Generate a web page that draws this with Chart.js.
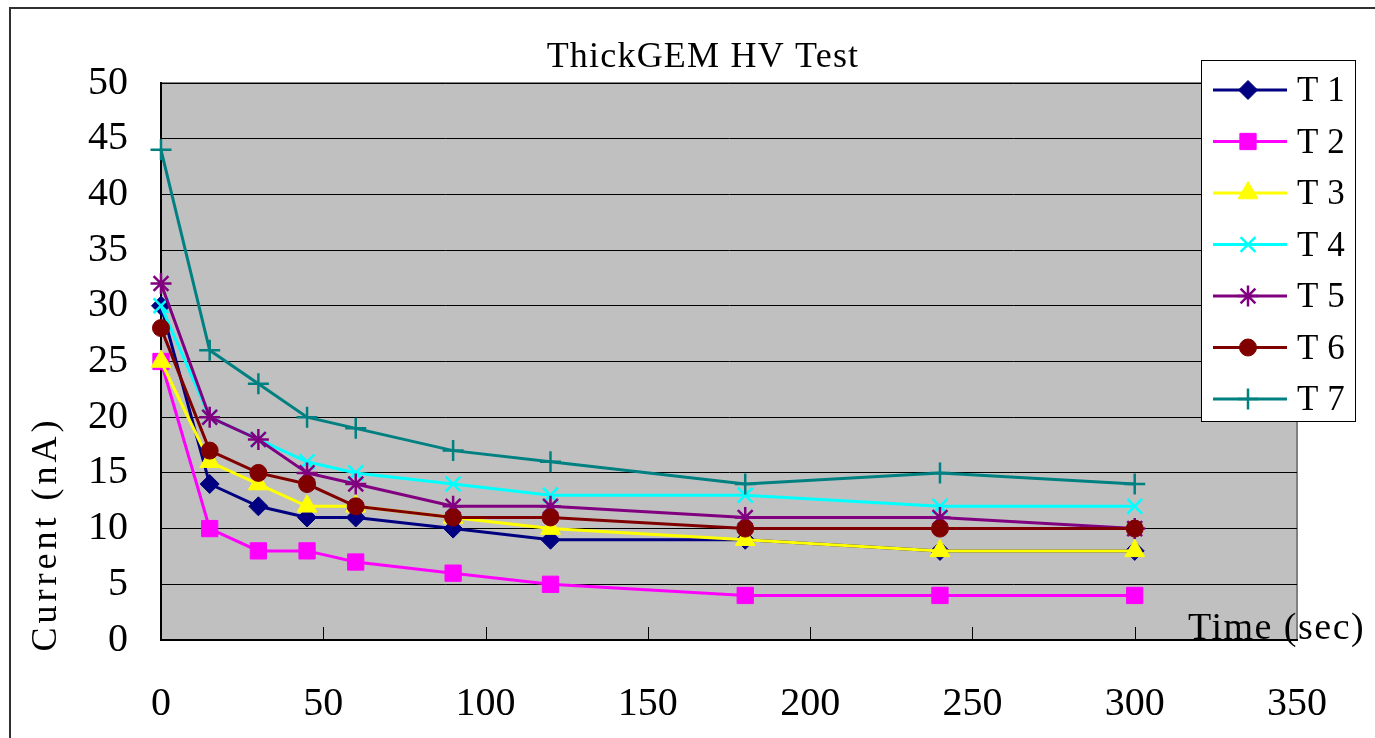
<!DOCTYPE html>
<html>
<head>
<meta charset="utf-8">
<title>ThickGEM HV Test</title>
<script src="https://cdn.jsdelivr.net/npm/chart.js@4.4.1/dist/chart.umd.min.js"></script>
<style>
  html, body { margin: 0; padding: 0; background: #ffffff; }
  #wrap { width: 1375px; height: 738px; position: relative; }
</style>
</head>
<body>
<div id="wrap"><canvas id="c" width="1375" height="738"></canvas></div>
<script>
// Elapsed time after HV switch-on (sec)
const times = [0, 15, 30, 45, 60, 90, 120, 180, 240, 300];

// Leakage current per foil (nA)
const t1 = [30, 14, 12, 11, 11, 10, 9, 9, 8, 8];
const t2 = [25, 10, 8, 8, 7, 6, 5, 4, 4, 4];
const t3 = [25, 16, 14, 12, 12, 11, 10, 9, 8, 8];
const t4 = [30, 20, 18, 16, 15, 14, 13, 13, 12, 12];
const t5 = [32, 20, 18, 15, 14, 12, 12, 11, 11, 10];
const t6 = [28, 17, 15, 14, 12, 11, 11, 10, 10, 10];
const t7 = [44, 26, 23, 20, 19, 17, 16, 14, 15, 14];

const seriesNames = ['T 1', 'T 2', 'T 3', 'T 4', 'T 5', 'T 6', 'T 7'];
const seriesValues = [t1, t2, t3, t4, t5, t6, t7];

const yTicks = [0, 5, 10, 15, 20, 25, 30, 35, 40, 45, 50];
const xTicks = [0, 50, 100, 150, 200, 250, 300, 350];

const titleText = 'ThickGEM HV Test';
const yTitle = 'Current (nA)';
const xTitle = 'Time (sec)';

const FONT = "'Liberation Serif', 'DejaVu Serif', serif";

const styles = [
  { color: '#000080', pointStyle: 'rectRot', radius: 9.5 },
  { color: '#FF00FF', pointStyle: 'rect', radius: 11.5 },
  { color: '#FFFF00', pointStyle: 'triangle', radius: 11.5 },
  { color: '#00FFFF', pointStyle: 'crossRot', radius: 10.5 },
  { color: '#800080', pointStyle: 'star', radius: 10.5 },
  { color: '#800000', pointStyle: 'circle', radius: 8.5 },
  { color: '#008080', pointStyle: 'cross', radius: 10.5 }
];

const datasets = seriesValues.map((vals, i) => ({
  label: seriesNames[i],
  data: times.map((t, k) => ({ x: t, y: vals[k] })),
  borderColor: styles[i].color,
  backgroundColor: styles[i].color,
  borderWidth: 3,
  pointStyle: styles[i].pointStyle,
  pointRadius: styles[i].radius,
  pointHoverRadius: styles[i].radius,
  pointBorderWidth: (styles[i].pointStyle.startsWith('cross') || styles[i].pointStyle === 'star') ? 2.5 : 1,
  pointBackgroundColor: styles[i].color,
  pointBorderColor: styles[i].color,
  tension: 0,
  fill: false,
  clip: false,
  order: seriesNames.length - i
}));

// Plot-area background, frame, tick marks, titles and the boxed legend
const decor = {
  id: 'decor',
  beforeDraw(chart) {
    const { ctx, chartArea: a } = chart;
    ctx.save();
    ctx.fillStyle = '#ffffff';
    ctx.fillRect(0, 0, chart.width, chart.height);
    // outer chart frame
    ctx.strokeStyle = '#303030';
    ctx.lineWidth = 2;
    ctx.strokeRect(10, 8, chart.width + 20, chart.height + 20);
    // plot area
    ctx.fillStyle = '#C0C0C0';
    ctx.fillRect(a.left, a.top, a.right - a.left, a.bottom - a.top);
    ctx.strokeStyle = '#808080';
    ctx.lineWidth = 2;
    ctx.strokeRect(a.left, a.top, a.right - a.left, a.bottom - a.top);
    ctx.restore();
  },
  beforeDatasetsDraw(chart) {
    const { ctx, chartArea: a, scales } = chart;
    ctx.save();
    // inward tick marks on the time axis
    ctx.strokeStyle = '#000000';
    ctx.lineWidth = 1;
    scales.x.ticks.forEach(t => {
      if (t.value <= 0 || t.value >= 350) return;
      const px = Math.round(scales.x.getPixelForValue(t.value)) + 0.5;
      ctx.beginPath();
      ctx.moveTo(px, a.bottom);
      ctx.lineTo(px, a.bottom - 13);
      ctx.stroke();
    });
    ctx.restore();
  },
  afterDraw(chart) {
    const { ctx } = chart;
    ctx.save();
    ctx.fillStyle = '#000000';

    // chart title
    ctx.font = '36px ' + FONT;
    ctx.letterSpacing = '1.2px';
    ctx.textAlign = 'center';
    ctx.textBaseline = 'alphabetic';
    ctx.fillText(titleText, 703, 67);

    // y axis title
    ctx.save();
    ctx.translate(56, 534);
    ctx.rotate(-Math.PI / 2);
    ctx.font = '36px ' + FONT;
    ctx.letterSpacing = '4px';
    ctx.textAlign = 'center';
    ctx.textBaseline = 'alphabetic';
    ctx.fillText(yTitle, 0, 0);
    ctx.restore();

    // x axis title
    ctx.font = '38px ' + FONT;
    ctx.letterSpacing = '1.5px';
    ctx.textAlign = 'left';
    ctx.textBaseline = 'alphabetic';
    ctx.fillText(xTitle, 1188, 639);

    // legend box
    const lx = 1201, ly = 60, lw = 154, lh = 361;
    ctx.letterSpacing = '0px';
    ctx.fillStyle = '#ffffff';
    ctx.fillRect(lx, ly, lw, lh);
    ctx.strokeStyle = '#000000';
    ctx.lineWidth = 1;
    ctx.strokeRect(lx + 0.5, ly + 0.5, lw, lh);
    chart.data.datasets.forEach((ds, i) => {
      const cy = 90 + i * 51.5;
      ctx.strokeStyle = ds.borderColor;
      ctx.lineWidth = 3;
      ctx.beginPath();
      ctx.moveTo(1213, cy);
      ctx.lineTo(1287, cy);
      ctx.stroke();
      ctx.fillStyle = ds.pointBackgroundColor;
      ctx.strokeStyle = ds.pointBorderColor;
      ctx.lineWidth = ds.pointBorderWidth;
      Chart.helpers.drawPoint(ctx, {
        pointStyle: ds.pointStyle,
        radius: ds.pointRadius,
        rotation: 0,
        borderWidth: ds.pointBorderWidth
      }, 1248, cy);
      ctx.fillStyle = '#000000';
      ctx.font = '35px ' + FONT;
      ctx.textAlign = 'left';
      ctx.textBaseline = 'middle';
      ctx.fillText(ds.label, 1297, cy + 2);
    });
    ctx.restore();
  }
};

new Chart(document.getElementById('c'), {
  type: 'line',
  data: { datasets },
  options: {
    responsive: false,
    animation: false,
    events: [],
    layout: { padding: { left: 0, right: 78, top: 83, bottom: 0 } },
    plugins: {
      legend: { display: false },
      title: { display: false },
      tooltip: { enabled: false }
    },
    scales: {
      x: {
        type: 'linear',
        min: xTicks[0],
        max: xTicks[xTicks.length - 1],
        afterBuildTicks: s => { s.ticks = xTicks.map(v => ({ value: v })); },
        afterFit: s => { s.height = 98; },
        grid: { display: false, drawTicks: false },
        border: { display: true, color: '#000000', width: 2 },
        ticks: {
          color: '#000000',
          font: { family: FONT, size: 40 },
          padding: 40,
          maxRotation: 0,
          autoSkip: false
        }
      },
      y: {
        type: 'linear',
        min: yTicks[0],
        max: yTicks[yTicks.length - 1],
        afterBuildTicks: s => { s.ticks = yTicks.map(v => ({ value: v })); },
        afterFit: s => { s.width = 161; },
        grid: { color: '#000000', lineWidth: 1, drawTicks: false },
        border: { display: true, color: '#000000', width: 2 },
        ticks: {
          color: '#000000',
          font: { family: FONT, size: 40 },
          padding: 33
        }
      }
    }
  },
  plugins: [decor]
});
</script>
</body>
</html>
